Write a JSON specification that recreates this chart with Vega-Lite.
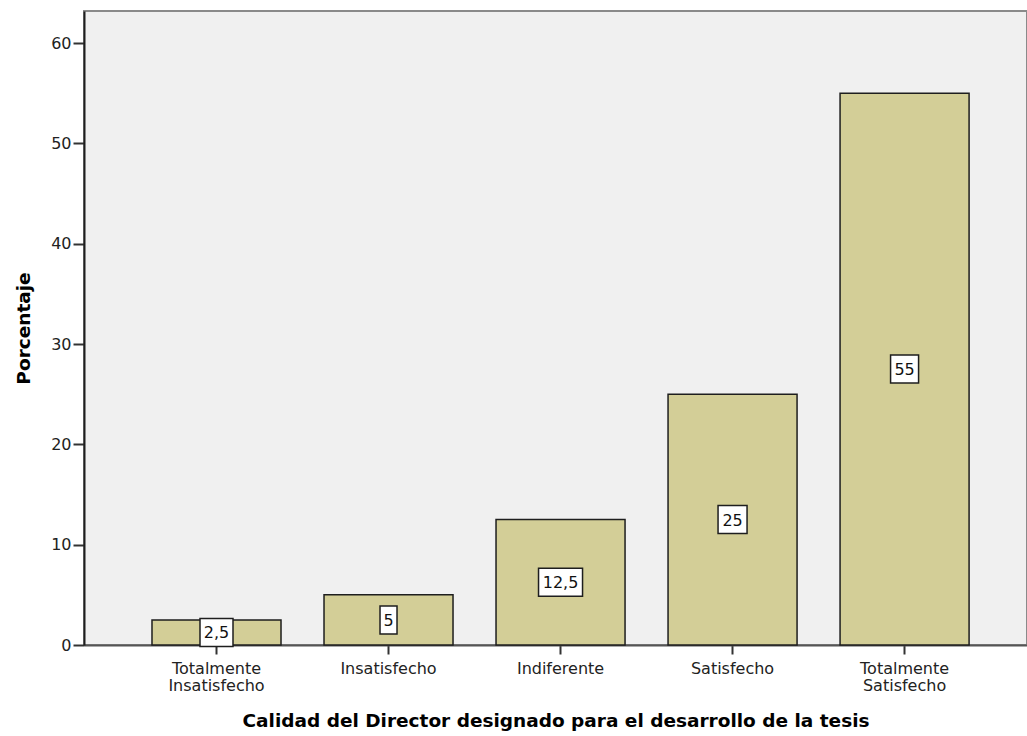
{
  "$schema": "https://vega.github.io/schema/vega-lite/v6.json",
  "width": 943,
  "height": 634,
  "autosize": {"type": "none"},
  "padding": {"left": 84, "top": 11, "right": 0, "bottom": 91},
  "background": "white",
  "config": {
    "view": {"fill": "#f0f0f0", "stroke": "#8a8a8a", "strokeWidth": 2},
    "font": "DejaVu Sans"
  },
  "data": {
    "values": [
      {"categoria": "Totalmente Insatisfecho", "porcentaje": 2.5, "etiqueta": "2,5"},
      {"categoria": "Insatisfecho", "porcentaje": 5, "etiqueta": "5"},
      {"categoria": "Indiferente", "porcentaje": 12.5, "etiqueta": "12,5"},
      {"categoria": "Satisfecho", "porcentaje": 25, "etiqueta": "25"},
      {"categoria": "Totalmente Satisfecho", "porcentaje": 55, "etiqueta": "55"}
    ]
  },
  "encoding": {
    "x": {
      "field": "categoria",
      "type": "nominal",
      "sort": null,
      "scale": {"paddingInner": 0.25, "paddingOuter": 0.366, "align": 0.54},
      "axis": {
        "title": "Calidad del Director designado para el desarrollo de la tesis",
        "titleFont": "DejaVu Sans",
        "titleFontSize": 18.5,
        "titleFontWeight": "bold",
        "titleColor": "#000000",
        "titlePadding": 18,
        "labelAngle": 0,
        "labelFont": "DejaVu Sans",
        "labelFontSize": 16,
        "labelLineHeight": 17,
        "labelColor": "#222222",
        "labelPadding": 6,
        "labelExpr": "indexof(datum.label, 'Totalmente') == 0 ? split(datum.label, ' ') : datum.label",
        "domainColor": "#555555",
        "domainWidth": 2,
        "tickColor": "#333333",
        "tickWidth": 2,
        "tickSize": 9,
        "grid": false
      }
    }
  },
  "layer": [
    {
      "mark": {"type": "bar", "fill": "#d3ce97", "stroke": "#1e1e1e", "strokeWidth": 1.5},
      "encoding": {
        "y": {
          "field": "porcentaje",
          "type": "quantitative",
          "scale": {"domain": [0, 63.19], "nice": false},
          "axis": {
            "title": "Porcentaje",
            "titleFont": "DejaVu Sans",
            "titleFontSize": 18.5,
            "titleFontWeight": "bold",
            "titleColor": "#000000",
            "titlePadding": 17,
            "values": [0, 10, 20, 30, 40, 50, 60],
            "labelFont": "DejaVu Sans",
            "labelFontSize": 16,
            "labelColor": "#222222",
            "labelPadding": 2,
            "domainColor": "#1e1e1e",
            "domainWidth": 2,
            "tickColor": "#333333",
            "tickWidth": 2,
            "tickSize": 11,
            "grid": false
          }
        }
      }
    },
    {
      "mark": {"type": "point", "filled": true, "fill": "white", "stroke": "#1e1e1e", "strokeWidth": 1.5, "opacity": 1, "size": 4},
      "encoding": {
        "y": {
          "field": "porcentaje",
          "type": "quantitative",
          "scale": {"domain": [0, 126.38], "nice": false},
          "axis": null
        },
        "shape": {
          "field": "etiqueta",
          "type": "nominal",
          "scale": {
            "domain": ["2,5", "5", "12,5", "25", "55"],
            "range": [
              "M-16.5,-14L16.5,-14L16.5,14L-16.5,14Z",
              "M-8.5,-14L8.5,-14L8.5,14L-8.5,14Z",
              "M-22,-14L22,-14L22,14L-22,14Z",
              "M-14.5,-14L14.5,-14L14.5,14L-14.5,14Z",
              "M-14,-14L14,-14L14,14L-14,14Z"
            ]
          },
          "legend": null
        }
      }
    },
    {
      "mark": {"type": "text", "font": "DejaVu Sans", "fontSize": 16, "color": "#111111", "baseline": "middle", "align": "center", "dy": 1},
      "encoding": {
        "y": {
          "field": "porcentaje",
          "type": "quantitative",
          "scale": {"domain": [0, 126.38], "nice": false},
          "axis": null
        },
        "text": {"field": "etiqueta"}
      }
    }
  ],
  "resolve": {"scale": {"y": "independent"}}
}
